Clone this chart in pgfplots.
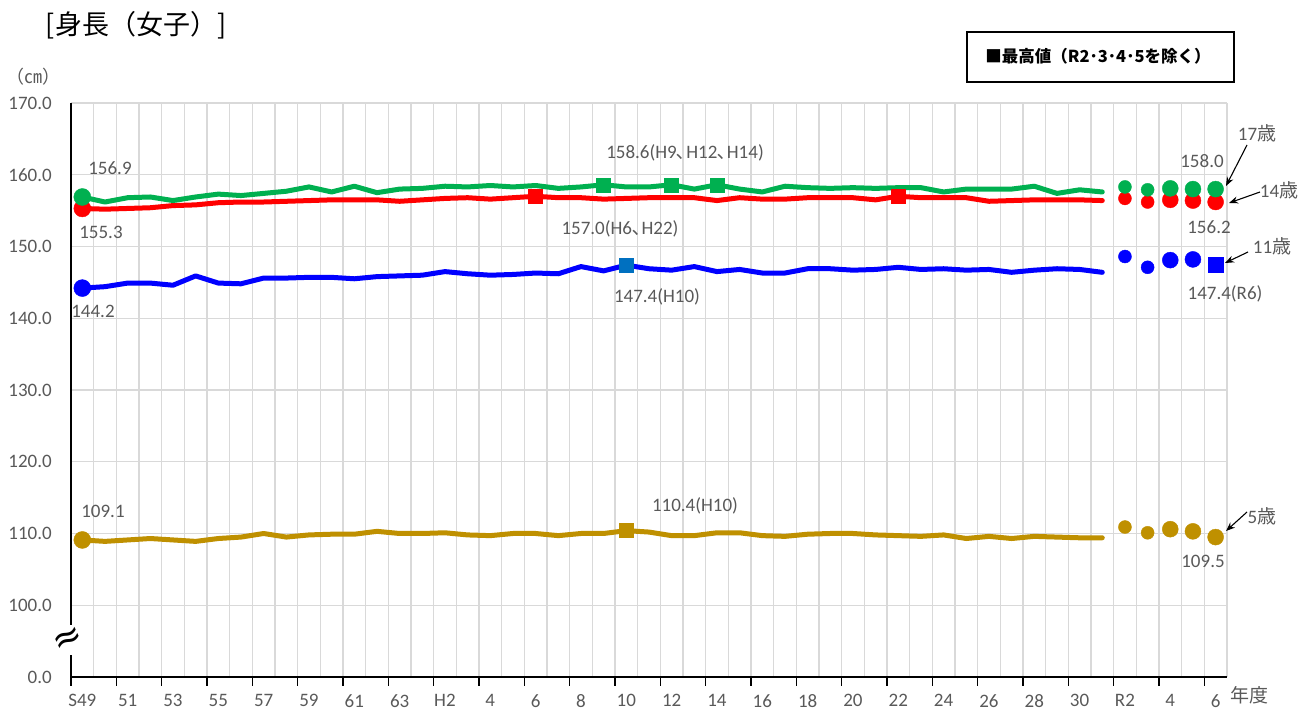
\documentclass[border=0pt]{standalone}
\usepackage{fontspec}
\usepackage{pgfplots}
\pgfplotsset{compat=1.18}
\usepackage{pgfplotstable}
\usetikzlibrary{arrows.meta}
\setmainfont{Carlito}
\newfontfamily\cjk{Noto Sans CJK JP}
\newfontfamily\dv{DejaVu Sans}
\definecolor{cg}{HTML}{00B050}
\definecolor{cr}{HTML}{FF0000}
\definecolor{cb}{HTML}{0000FF}
\definecolor{cbs}{HTML}{0070C0}
\definecolor{cy}{HTML}{BF9000}
\definecolor{gridgray}{HTML}{D9D9D9}
\definecolor{labgray}{HTML}{595959}
\newcommand\tl{\fontsize{19}{22}\selectfont}
\newcommand\tc{{\cjk ､}}

\pgfplotstableread{
k g5 b11 r14 g17
0 109.1 144.2 155.3 156.9
1 108.9 144.4 155.2 156.2
2 109.1 144.9 155.3 156.8
3 109.3 144.9 155.4 156.9
4 109.1 144.6 155.7 156.4
5 108.9 145.9 155.8 156.9
6 109.3 144.9 156.1 157.3
7 109.5 144.8 156.2 157.1
8 110.0 145.6 156.2 157.4
9 109.5 145.6 156.3 157.7
10 109.8 145.7 156.4 158.3
11 109.9 145.7 156.5 157.6
12 109.9 145.5 156.5 158.4
13 110.3 145.8 156.5 157.5
14 110.0 145.9 156.3 158.0
15 110.0 146.0 156.5 158.1
16 110.1 146.5 156.7 158.4
17 109.8 146.2 156.8 158.3
18 109.7 146.0 156.6 158.5
19 110.0 146.1 156.8 158.3
20 110.0 146.3 157.0 158.5
21 109.7 146.2 156.8 158.1
22 110.0 147.2 156.8 158.3
23 110.0 146.6 156.6 158.6
24 110.4 147.4 156.7 158.3
25 110.2 146.9 156.8 158.3
26 109.7 146.7 156.8 158.6
27 109.7 147.2 156.8 158.0
28 110.1 146.5 156.4 158.6
29 110.1 146.8 156.8 158.0
30 109.7 146.3 156.6 157.6
31 109.6 146.3 156.6 158.4
32 109.9 146.9 156.8 158.2
33 110.0 146.9 156.8 158.1
34 110.0 146.7 156.8 158.2
35 109.8 146.8 156.5 158.1
36 109.7 147.1 157.0 158.2
37 109.6 146.8 156.8 158.2
38 109.8 146.9 156.8 157.6
39 109.3 146.7 156.8 158.0
40 109.6 146.8 156.3 158.0
41 109.3 146.4 156.4 158.0
42 109.6 146.7 156.5 158.4
43 109.5 146.9 156.5 157.4
44 109.4 146.8 156.5 157.9
45 109.4 146.4 156.4 157.6
}\linedata

\pgfplotstableread{
k g5 b11 r14 g17
46 110.9 148.6 156.7 158.3
47 110.1 147.1 156.2 157.9
}\rsmall

\pgfplotstableread{
k g5 b11 r14 g17
48 110.6 148.1 156.5 158.1
49 110.3 148.2 156.4 158.0
50 109.5 147.4 156.2 158.0
}\rbig

\pgfplotstableread{
k b11
48 148.1
49 148.2
}\rbigblue

\begin{document}
\begin{tikzpicture}
\path[use as bounding box] (0pt,0pt) rectangle (1301pt,711pt);
\begin{axis}[
  at={(71pt,34pt)}, anchor=south west,
  scale only axis, width=1156pt, height=574pt,
  xmin=-0.5, xmax=50.5, ymin=90, ymax=170,
  axis x line*=bottom, axis y line*=left,
  axis line style={-, black, line width=1.3pt},
  xtick={-0.5,1.5,...,49.5},
  xticklabels={S49,51,53,55,57,59,61,63,H2,4,6,8,10,12,14,16,18,20,22,24,26,28,30,R2,4,6},
  major tick length=0pt,
  minor xtick={-0.5,0.5,...,50.5},
  minor tick length=0pt,
  xminorgrids=true, xmajorgrids=false, ymajorgrids=true,
  grid style={draw=gridgray, line width=1.2pt},
  minor grid style={draw=gridgray, line width=1.2pt},
  ytick={90,100,...,170},
  yticklabels={0.0,100.0,110.0,120.0,130.0,140.0,150.0,160.0,170.0},
  ticklabel style={font=\tl, text=labgray},
  yticklabel style={inner sep=0pt, anchor=east, xshift=-19pt},
  xticklabel style={inner sep=0pt, anchor=north, xshift=11.33pt, yshift=-17pt},
  clip=false,
]
% 5 years
\addplot[cy, line width=5pt, line join=round, line cap=round] table[x=k,y=g5]{\linedata};
\addplot[only marks, mark=*, mark size=8.5pt, mark options={draw=cy, fill=cy}] coordinates {(0,109.1)};
\addplot[only marks, mark=square*, mark size=7pt, mark options={draw=cy, fill=cy}] coordinates {(24,110.4)};
\addplot[only marks, mark=*, mark size=6.5pt, mark options={draw=cy, fill=cy}] table[x=k,y=g5]{\rsmall};
\addplot[only marks, mark=*, mark size=8pt, mark options={draw=cy, fill=cy}] table[x=k,y=g5]{\rbig};
% 11 years
\addplot[cb, line width=5pt, line join=round, line cap=round] table[x=k,y=b11]{\linedata};
\addplot[only marks, mark=*, mark size=8.5pt, mark options={draw=cb, fill=cb}] coordinates {(0,144.2)};
\addplot[only marks, mark=square*, mark size=7pt, mark options={draw=cbs, fill=cbs}] coordinates {(24,147.4)};
\addplot[only marks, mark=*, mark size=6.5pt, mark options={draw=cb, fill=cb}] table[x=k,y=b11]{\rsmall};
\addplot[only marks, mark=*, mark size=8pt, mark options={draw=cb, fill=cb}] table[x=k,y=b11]{\rbigblue};
\addplot[only marks, mark=square*, mark size=7.5pt, mark options={draw=cb, fill=cb}] coordinates {(50,147.4)};
% 14 years
\addplot[cr, line width=5pt, line join=round, line cap=round] table[x=k,y=r14]{\linedata};
\addplot[only marks, mark=*, mark size=8.5pt, mark options={draw=cr, fill=cr}] coordinates {(0,155.3)};
\addplot[only marks, mark=square*, mark size=7pt, mark options={draw=cr, fill=cr}] coordinates {(20,157.0) (36,157.0)};
\addplot[only marks, mark=*, mark size=6.5pt, mark options={draw=cr, fill=cr}] table[x=k,y=r14]{\rsmall};
\addplot[only marks, mark=*, mark size=8pt, mark options={draw=cr, fill=cr}] table[x=k,y=r14]{\rbig};
% 17 years
\addplot[cg, line width=5pt, line join=round, line cap=round] table[x=k,y=g17]{\linedata};
\addplot[only marks, mark=*, mark size=8.5pt, mark options={draw=cg, fill=cg}] coordinates {(0,156.9)};
\addplot[only marks, mark=square*, mark size=7pt, mark options={draw=cg, fill=cg}] coordinates {(23,158.6) (26,158.6) (28,158.6)};
\addplot[only marks, mark=*, mark size=6.5pt, mark options={draw=cg, fill=cg}] table[x=k,y=g17]{\rsmall};
\addplot[only marks, mark=*, mark size=8pt, mark options={draw=cg, fill=cg}] table[x=k,y=g17]{\rbig};
\end{axis}

% tick marks below the x axis (every second category boundary)
\foreach \i in {0,...,25} {
  \draw[black, line width=1.5pt] ({71pt+\i*45.333pt},34pt) -- ({71pt+\i*45.333pt},25pt);
}

% axis break
\fill[white] (62pt,56pt) rectangle (80pt,86pt);
\node[rotate=25, inner sep=0pt] at (68pt,71pt) {\dv\fontsize{36}{36}\selectfont ≈};

% texts
\begin{scope}[every node/.style={inner sep=0pt, text=labgray, font=\tl}]
\node at (110pt,543pt) {156.9};
\node at (101pt,479pt) {155.3};
\node at (93pt,400pt) {144.2};
\node at (685pt,558pt) {158.6(H9\tc H12\tc H14)};
\node at (620pt,482pt) {157.0(H6\tc H22)};
\node at (657pt,414pt) {147.4(H10)};
\node at (1202pt,550pt) {158.0};
\node at (1209pt,484pt) {156.2};
\node at (1225pt,417pt) {147.4(R6)};
\node at (103pt,200pt) {109.1};
\node at (695pt,205pt) {110.4(H10)};
\node at (1203pt,150pt) {109.5};
\node at (1257pt,578pt) {17{\cjk 歳}};
\node at (1279pt,521pt) {14{\cjk 歳}};
\node at (1272pt,465pt) {11{\cjk 歳}};
\node at (1262pt,195pt) {5{\cjk 歳}};
\node at (1249pt,16pt) {{\cjk 年度}};
\node at (33pt,634pt) {{\cjk\fontsize{18}{20}\selectfont （㎝）}};
\end{scope}
\node[inner sep=0pt, text=black] at (136pt,686pt) {\cjk\fontsize{27}{30}\selectfont [身長（女子）]};

% arrows
\begin{scope}[-{Stealth[length=9pt,width=7pt]}, line width=1.1pt, black]
\draw (1247pt,566pt) -- (1226pt,525pt);
\draw (1260pt,519pt) -- (1229pt,508pt);
\draw (1248pt,459pt) -- (1225pt,448pt);
\draw (1247pt,199pt) -- (1226pt,180pt);
\end{scope}

% legend box
\draw[black, line width=1.5pt] (967pt,629pt) rectangle (1234pt,679pt);
\node[inner sep=0pt] at (1098pt,655pt) {\cjk\bfseries\fontsize{16.5}{20}\selectfont ■最高値（R2･3･4･5を除く）};
\end{tikzpicture}
\end{document}
